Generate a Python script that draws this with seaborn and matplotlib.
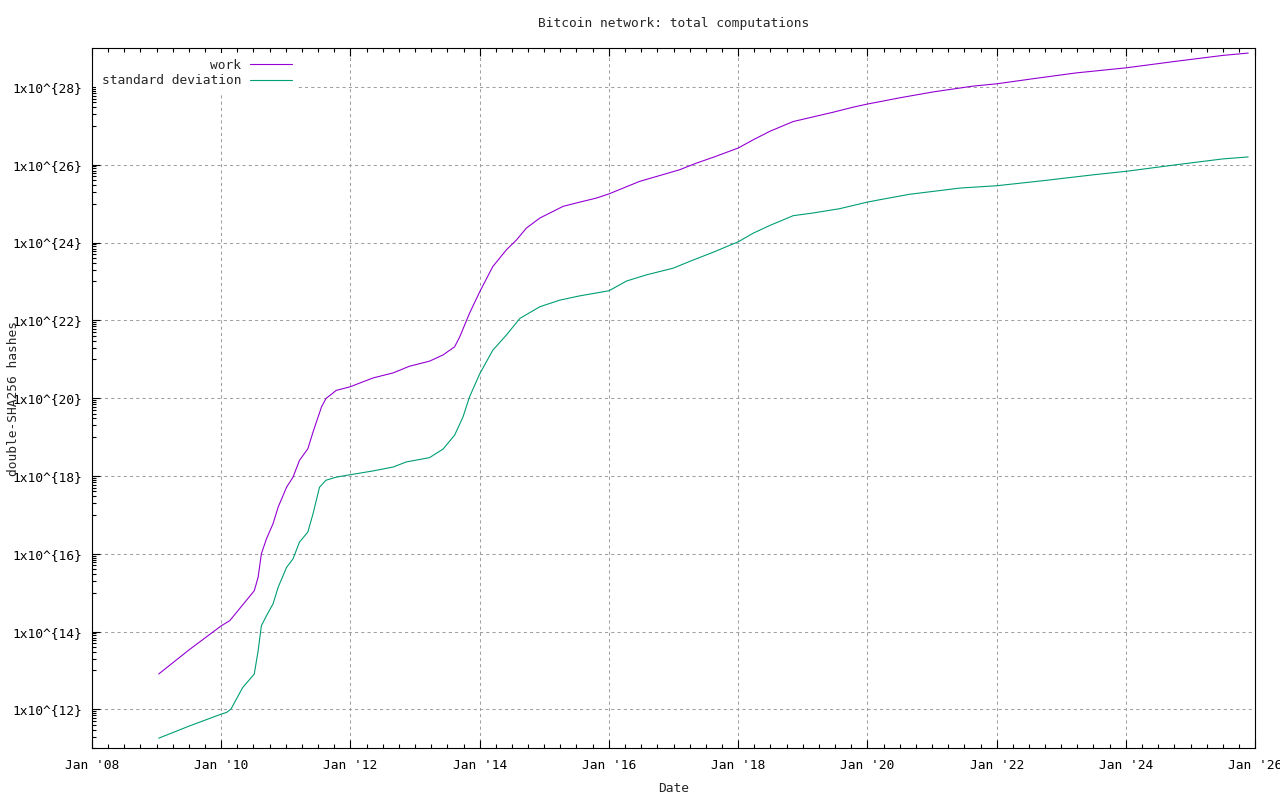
import numpy as np
import pandas as pd
import matplotlib
matplotlib.use("Agg")
import matplotlib.pyplot as plt
import matplotlib.dates as mdates
from matplotlib.ticker import FixedLocator, FuncFormatter, NullFormatter
from matplotlib.lines import Line2D
import seaborn as sns

# ---- data (decimal years, log10 of hashes) ----
work_years = [2009.03, 2009.50, 2010.00, 2010.13, 2010.51, 2010.57, 2010.62, 2010.70,
              2010.80, 2010.88, 2011.01, 2011.11, 2011.21, 2011.34, 2011.42, 2011.55,
              2011.62, 2011.78, 2011.99, 2012.35, 2012.66, 2012.91, 2013.22, 2013.43,
              2013.61, 2013.69, 2013.84, 2014.00, 2014.20, 2014.41, 2014.57, 2014.72,
              2014.93, 2015.29, 2015.55, 2015.80, 2016.00, 2016.22, 2016.47, 2016.78,
              2017.09, 2017.35, 2017.61, 2018.00, 2018.23, 2018.49, 2018.85, 2019.16,
              2019.47, 2019.78, 2020.00, 2020.19, 2020.50, 2021.01, 2021.63, 2022.00,
              2022.56, 2023.23, 2024.00, 2024.78, 2025.50, 2025.89]
work_log10 = [12.91, 13.53, 14.15, 14.28, 15.05, 15.40, 16.00, 16.39,
              16.77, 17.20, 17.71, 17.97, 18.40, 18.70, 19.13, 19.77,
              19.99, 20.20, 20.29, 20.52, 20.65, 20.82, 20.95, 21.11,
              21.32, 21.58, 22.18, 22.74, 23.38, 23.81, 24.07, 24.37,
              24.63, 24.93, 25.04, 25.14, 25.25, 25.40, 25.57, 25.72,
              25.87, 26.04, 26.19, 26.43, 26.64, 26.86, 27.11, 27.23,
              27.35, 27.48, 27.56, 27.62, 27.72, 27.87, 28.02, 28.08,
              28.21, 28.36, 28.49, 28.66, 28.81, 28.87]

std_years = [2009.03, 2009.50, 2010.00, 2010.08, 2010.15, 2010.33, 2010.51, 2010.57,
             2010.62, 2010.70, 2010.80, 2010.88, 2011.01, 2011.11, 2011.21, 2011.34,
             2011.42, 2011.52, 2011.62, 2011.78, 2011.99, 2012.35, 2012.66, 2012.86,
             2013.22, 2013.43, 2013.61, 2013.74, 2013.84, 2014.00, 2014.20, 2014.41,
             2014.62, 2014.93, 2015.24, 2015.55, 2016.00, 2016.27, 2016.58, 2016.99,
             2017.30, 2017.61, 2018.00, 2018.23, 2018.49, 2018.85, 2019.16, 2019.57,
             2020.00, 2020.19, 2020.65, 2021.43, 2022.00, 2022.72, 2023.49, 2024.00,
             2024.78, 2025.50, 2025.89]
std_log10 = [11.26, 11.57, 11.88, 11.92, 12.01, 12.56, 12.91, 13.51,
             14.15, 14.41, 14.71, 15.14, 15.65, 15.87, 16.30, 16.56,
             17.03, 17.71, 17.89, 17.97, 18.03, 18.13, 18.23, 18.36,
             18.47, 18.69, 19.05, 19.52, 20.03, 20.63, 21.23, 21.62,
             22.05, 22.35, 22.52, 22.63, 22.76, 23.01, 23.17, 23.34,
             23.55, 23.75, 24.02, 24.24, 24.44, 24.69, 24.76, 24.87,
             25.04, 25.10, 25.24, 25.40, 25.46, 25.59, 25.74, 25.83,
             26.00, 26.15, 26.20]

series_names = ["work", "standard deviation"]
series_colors = ["#9400d3", "#009e73"]
ytick_exponents = list(range(12, 29, 2))

title_text = "Bitcoin network: total computations"
xlabel_text = "Date"
ylabel_text = "double-SHA256 hashes"


def to_date(y):
    yr = int(np.floor(y))
    start = pd.Timestamp(year=yr, month=1, day=1)
    end = pd.Timestamp(year=yr + 1, month=1, day=1)
    return start + (end - start) * (y - yr)


df = pd.concat([
    pd.DataFrame({"date": [to_date(v) for v in work_years],
                  "hashes": 10.0 ** np.array(work_log10),
                  "series": series_names[0]}),
    pd.DataFrame({"date": [to_date(v) for v in std_years],
                  "hashes": 10.0 ** np.array(std_log10),
                  "series": series_names[1]}),
], ignore_index=True)

sns.set_style("white")
FONT = ["DejaVu Sans Mono", "DejaVu Sans"]
plt.rcParams["font.family"] = FONT
FS = 9.3

fig = plt.figure(figsize=(12.8, 8), dpi=100)
W, H = 1280, 800
L, R, T, B = 92, 1255.3, 48, 748.3
ax = fig.add_axes([L / W, 1 - B / H, (R - L) / W, (B - T) / H])

palette = dict(zip(series_names, series_colors))
sns.lineplot(data=df, x="date", y="hashes", hue="series", palette=palette,
             estimator=None, sort=False, linewidth=0.8, legend=False, ax=ax)

ax.set_yscale("log")
ax.set_ylim(1e11, 1e29)
ax.set_xlim(pd.Timestamp("2008-01-01"), pd.Timestamp("2026-01-01"))

# x ticks
ax.xaxis.set_major_locator(mdates.YearLocator(2))
ax.xaxis.set_major_formatter(mdates.DateFormatter("%b '%y"))
ax.xaxis.set_minor_locator(mdates.MonthLocator(bymonth=[1, 4, 7, 10]))

# y ticks
ax.yaxis.set_major_locator(FixedLocator([10.0 ** e for e in ytick_exponents]))
ax.yaxis.set_major_formatter(FuncFormatter(lambda v, p: "1x10^{%d}" % int(round(np.log10(v)))))
ax.yaxis.set_minor_locator(FixedLocator([k * 10.0 ** e for e in range(11, 28, 2) for k in range(1, 10)]))
ax.yaxis.set_minor_formatter(NullFormatter())

ax.tick_params(axis="both", which="both", direction="in", colors="black",
               width=0.8, labelsize=FS)
ax.tick_params(axis="x", which="both", top=True, bottom=True, pad=8)
ax.tick_params(axis="y", which="both", left=True, right=False, pad=7.4)
ax.tick_params(which="major", length=5.8)
ax.tick_params(which="minor", length=3.2)

for s in ax.spines.values():
    s.set_visible(True)
    s.set_color("black")
    s.set_linewidth(0.8)

ax.grid(True, which="major", color="#a0a0a0", linestyle=(0, (3, 3)), linewidth=0.75)
ax.set_axisbelow(True)

ax.set_title(title_text, fontsize=FS, pad=15)
ax.set_xlabel(xlabel_text, fontsize=FS)
ax.set_ylabel(ylabel_text, fontsize=FS)
ax.xaxis.set_label_coords(0.5, -40 / (B - T))
ax.xaxis.label.set_verticalalignment("center")
ax.yaxis.set_label_coords((14 - L) / (R - L), 0.5)
ax.yaxis.label.set_verticalalignment("center")

handles = [Line2D([], [], color=c, linewidth=0.8) for c in series_colors]
leg = ax.legend(handles, series_names, loc="upper left",
                bbox_to_anchor=(4 / (R - L), 1 - 5 / (B - T)),
                markerfirst=False, frameon=True, fancybox=False, framealpha=1,
                facecolor="white", edgecolor="none", fontsize=FS,
                handlelength=3.2, handletextpad=0.7, labelspacing=0.2,
                borderpad=0.45, borderaxespad=0)
leg.set_zorder(5)

fig.savefig("out.png", dpi=100)
